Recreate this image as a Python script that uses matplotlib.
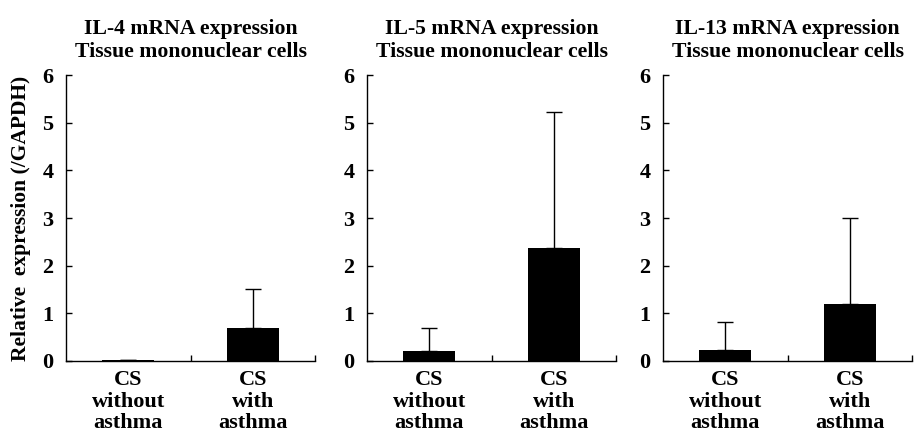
""" IL-4 / IL-5 / IL-13 mRNA expression bars """

import matplotlib
matplotlib.use('Agg')
import matplotlib.pyplot as plt

# * Datos
grupos = ['CS\nwithout\nasthma', 'CS\nwith\nasthma']
titulos = ['IL-4 mRNA expression\nTissue mononuclear cells',
           'IL-5 mRNA expression\nTissue mononuclear cells',
           'IL-13 mRNA expression\nTissue mononuclear cells']
medias_il4 = [0.03, 0.70]
errores_il4 = [0.0, 0.82]
medias_il5 = [0.20, 2.38]
errores_il5 = [0.50, 2.84]
medias_il13 = [0.22, 1.20]
errores_il13 = [0.60, 1.80]
yticks = [0, 1, 2, 3, 4, 5, 6]

medias = [medias_il4, medias_il5, medias_il13]
errores = [errores_il4, errores_il5, errores_il13]

plt.rcParams['font.family'] = ['Liberation Serif', 'DejaVu Serif']
plt.rcParams['font.weight'] = 'bold'

fig = plt.figure(figsize=(9.23, 4.37), dpi=100)
izquierdas = [0.0715, 0.3976, 0.7183]

for i in range(3):
    ax = fig.add_axes([izquierdas[i], 0.174, 0.27, 0.654])
    pos = [0.5, 1.5]
    ax.bar(pos, medias[i], width=0.42, color='black', zorder=2)
    ax.errorbar(pos, medias[i], yerr=[[0, 0], errores[i]], fmt='none',
                ecolor='black', elinewidth=1, capsize=6, capthick=1, zorder=1)
    ax.set_xlim(0, 2)
    ax.set_ylim(0, 6)
    ax.set_yticks(yticks)
    ax.set_yticklabels([str(v) for v in yticks], fontsize=16, fontweight='bold')
    ax.set_xticks([1, 2])
    ax.set_xticklabels([])
    ax.tick_params(axis='x', direction='in', length=4, width=1)
    ax.tick_params(axis='y', direction='in', length=4, width=1, pad=9)
    for j, g in enumerate(grupos):
        ax.text(pos[j], -0.2, g, ha='center', va='top', fontsize=16,
                fontweight='bold', linespacing=1.08, transform=ax.transData)
    ax.spines['top'].set_visible(False)
    ax.spines['right'].set_visible(False)
    ax.spines['left'].set_linewidth(1)
    ax.spines['bottom'].set_linewidth(1)
    ax.set_title(titulos[i], fontsize=15.7, fontweight='bold', linespacing=1.22, pad=13)
    if i == 0:
        ax.set_ylabel('Relative  expression (/GAPDH)', fontsize=15.5, fontweight='bold', labelpad=8)

plt.savefig('out.png', dpi=100)
